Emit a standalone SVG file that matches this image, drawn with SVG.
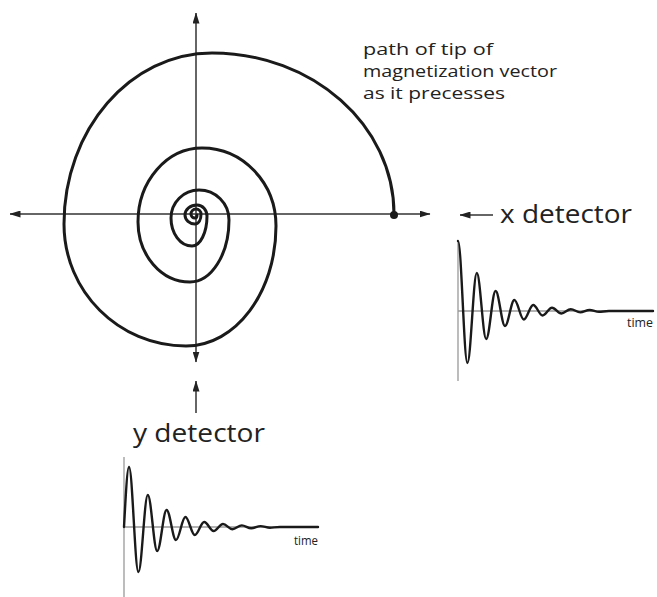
<svg xmlns="http://www.w3.org/2000/svg" width="657" height="597" viewBox="0 0 657 597">
<style>
text{font-family:"Open Sans","Noto Sans","DejaVu Sans",sans-serif;fill:#222}
.axis{stroke:#333;stroke-width:1.5;fill:none}
.gaxis{stroke:#999;stroke-width:1.3;fill:none}
.curve{stroke:#1a1a1a;stroke-width:3;fill:none;stroke-linecap:round;stroke-linejoin:round}
.wave{stroke:#1a1a1a;stroke-width:2.4;fill:none;stroke-linecap:round;stroke-linejoin:round}
.big{font-size:26px}
.note{font-size:17px}
.small{font-size:13px}
</style>
<defs>
<marker id="ah" markerWidth="11" markerHeight="7" refX="10.5" refY="3.5" orient="auto-start-reverse" markerUnits="userSpaceOnUse">
<path d="M0,0 L11,3.5 L0,7 z" fill="#222"/>
</marker>
</defs>
<rect width="657" height="597" fill="#fff"/>
<g id="connectors">
<line class="axis" x1="10" y1="214" x2="430" y2="214" marker-start="url(#ah)" marker-end="url(#ah)"/>
<line class="axis" x1="196" y1="13" x2="196" y2="362" marker-start="url(#ah)" marker-end="url(#ah)"/>
<line class="axis" x1="493" y1="215" x2="460" y2="215" marker-end="url(#ah)"/>
<line class="axis" x1="196" y1="413" x2="196" y2="381" marker-end="url(#ah)"/>
</g>
<g id="spiral">
<path class="curve" d="M394,214 C394,125.1 312.5,53 212,53 C130.3,53 64,129.6 64,224 C64,291.4 118.6,346 186,346 C235.7,346 276,292.3 276,226 C276,182.9 242.9,148 202,148 C166.7,148 138,181.1 138,222 C138,255.1 161.3,282 190,282 C211.5,282 229,254.2 229,220 C229,203.4 215.6,190 199,190 C183.5,190 171,202.5 171,218 C171,233.5 180.4,246 192,246 C200.3,246 207,232.6 207,216 C207,209.9 202.5,205 197,205 C190.4,205 185,209.5 185,215 C185,220 189.5,224 195,224 C198.9,224 201,219.5 201,214 C201,211.2 198.8,209 196,209 C193.2,209 191,211.2 191,214 C191,216.2 192.8,218 195,218 Q197,218 197,215"/>
<circle cx="394" cy="215" r="4" fill="#1a1a1a"/>
</g>
<g id="path-label">
<text class="note" x="363" y="55" textLength="130" lengthAdjust="spacingAndGlyphs">path of tip of</text>
<text class="note" x="363" y="77" textLength="194" lengthAdjust="spacingAndGlyphs">magnetization vector</text>
<text class="note" x="363" y="98.5" textLength="142" lengthAdjust="spacingAndGlyphs">as it precesses</text>
</g>
<g id="x-detector">
<text class="big" x="500" y="223" textLength="132" lengthAdjust="spacingAndGlyphs">x detector</text>
<line class="gaxis" x1="458" y1="240" x2="458" y2="381"/>
<line class="gaxis" x1="458" y1="311" x2="653" y2="311"/>
<path class="wave" d="M458,241 C461.4,241 464,363 467.4,363 C470.8,363 473.4,273 476.8,273 C480.2,273 482.8,339 486.2,339 C489.6,339 492.2,291 495.6,291 C499,291 501.6,326 505,326 C508.4,326 511,300 514.4,300 C517.8,300 520.4,319.5 523.8,319.5 C527.2,319.5 529.8,305 533.2,305 C536.6,305 539.2,315.5 542.6,315.5 C546,315.5 548.6,307.7 552,307.7 C555.4,307.7 558,313.5 561.4,313.5 C564.8,313.5 567.4,309.2 570.8,309.2 C574.2,309.2 576.8,312.4 580.2,312.4 C583.6,312.4 586.2,310 589.6,310 C593,310 595.6,311.8 599,311.8 C602,311.8 605,311 609,311 L653,311"/>
<text class="small" x="627" y="327" textLength="26" lengthAdjust="spacingAndGlyphs">time</text>
</g>
<g id="y-detector">
<text class="big" x="133" y="442" textLength="132" lengthAdjust="spacingAndGlyphs">y detector</text>
<line class="gaxis" x1="124" y1="457" x2="124" y2="597"/>
<line class="gaxis" x1="124" y1="527" x2="318" y2="527"/>
<path class="wave" d="M124,527 C125.6,498 127.2,467 129,467 C132.4,467 135,572 138.4,572 C141.8,572 144.4,495 147.8,495 C151.2,495 153.8,551 157.2,551 C160.6,551 163.2,510 166.6,510 C170,510 172.6,540 176,540 C179.4,540 182,517 185.4,517 C188.8,517 191.4,535 194.8,535 C198.2,535 200.8,522 204.2,522 C207.6,522 210.2,531 213.6,531 C217,531 219.6,524 223,524 C226.4,524 229,529.2 232.4,529.2 C235.8,529.2 238.4,525.4 241.8,525.4 C245.2,525.4 247.8,528.2 251.2,528.2 C254.6,528.2 257.2,526.1 260.6,526.1 C264,526.1 266.6,527.7 270,527.7 C273,527.7 276,527 280,527 L318,527"/>
<text class="small" x="294" y="545" textLength="24" lengthAdjust="spacingAndGlyphs">time</text>
</g>
</svg>
